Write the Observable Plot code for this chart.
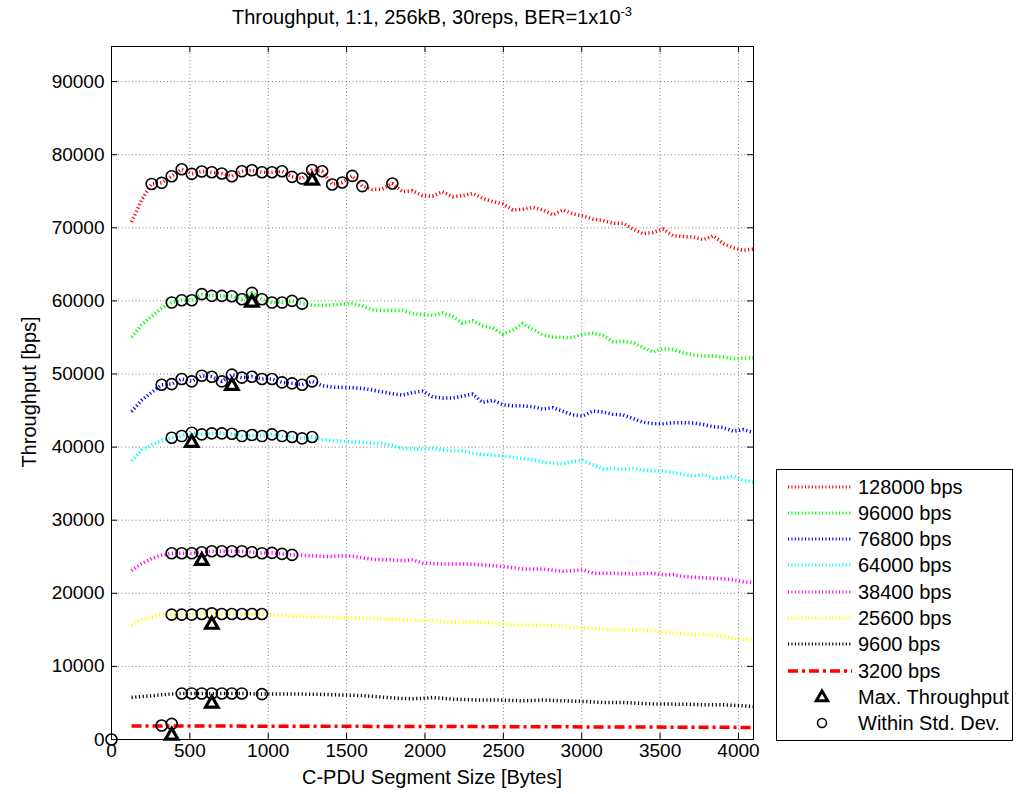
<!DOCTYPE html>
<html><head><meta charset="utf-8">
<script src="https://cdn.jsdelivr.net/npm/d3@7"></script>
<script src="https://cdn.jsdelivr.net/npm/@observablehq/plot@0.6"></script>
<style>
body{margin:0;background:#fff;font-family:"Liberation Sans",Arial,Helvetica,sans-serif;color:#000;}
#wrap{position:relative;width:1019px;height:794px;overflow:hidden;}
#chart{position:absolute;left:0;top:0;}
.lbl{position:absolute;font-size:20px;line-height:24px;text-align:center;white-space:nowrap;}
#title{left:111px;width:642px;top:5px;}
#title sup{font-size:13px;vertical-align:8px;line-height:0;}
#xlabel{left:132px;width:600px;top:765px;}
#ylabel{left:-121px;width:300px;top:380px;transform:rotate(-90deg);transform-origin:center center;}
#legend{position:absolute;left:776px;top:469px;width:237px;height:272px;border:1px solid #000;background:#fff;box-sizing:border-box;}
#legend .row{position:absolute;left:0;height:24px;font-size:20px;line-height:24px;white-space:nowrap;}
#legend svg{position:absolute;left:0;top:0;}
#legend span{position:absolute;left:81px;top:0;}
</style></head>
<body>
<div id="wrap">
  <div id="chart"></div>
  <div id="title" class="lbl">Throughput, 1:1, 256kB, 30reps, BER=1x10<sup>-3</sup></div>
  <div id="xlabel" class="lbl">C-PDU Segment Size [Bytes]</div>
  <div id="ylabel" class="lbl">Throughput [bps]</div>
  <div id="legend"></div>
</div>
<script>
// ---- data ----
const segmentSizes = [128,192,256,320,384,448,512,576,640,704,768,832,896,960,1024,1088,1152,1216,1280,1344,1408,1472,1536,1600,1664,1728,1792,1856,1920,1984,2048,2112,2176,2240,2304,2368,2432,2496,2560,2624,2688,2752,2816,2880,2944,3008,3072,3136,3200,3264,3328,3392,3456,3520,3584,3648,3712,3776,3840,3904,3968,4032,4096];

const tp128000 = [70800,73800,76000,76150,77060,78010,77380,77700,77600,77420,77060,77740,77870,77600,77600,77740,76970,76740,77900,77740,75930,76200,77100,75700,75250,75300,76060,74930,75070,74400,74340,74930,74250,74390,74700,74030,73600,73260,72440,72530,72800,72440,71760,72440,71900,71630,71180,71000,70630,70630,69820,69190,69370,69820,68910,68820,68730,68370,68910,67830,67240,66920,67100];
const tp96000 = [55050,56700,57900,59000,59770,60090,60090,60920,60690,60690,60640,60230,61100,60230,59770,59770,60000,59630,59400,59400,59450,59550,59630,59300,58750,58700,58700,58700,58260,58100,58030,58350,57890,56950,57300,56600,56300,55450,56000,56900,56100,55350,55050,55000,55000,55450,55580,55300,54400,54450,54300,53600,53000,53500,53350,52900,52600,52450,52480,52300,52100,52150,52200];
const tp76800 = [44860,46400,47500,48530,48620,49310,48990,49770,49630,48990,49910,49500,49630,49310,49310,48850,48720,48530,48990,48400,48200,48170,48120,48050,47800,47550,47300,47100,47450,47650,46900,46700,46700,46980,47250,46100,46400,45800,45650,45640,45520,45200,45400,44900,44400,44250,44950,44800,44480,44400,43900,43400,43210,43210,43330,43340,43300,43080,42780,42680,42150,42400,41970];
const tp64000 = [38100,39600,40300,40900,41280,41510,41970,41740,41880,41880,41830,41510,41650,41510,41740,41510,41380,41190,41380,41000,40900,40800,40700,40650,40550,40500,40200,39800,39750,39700,39800,39560,39500,39450,39200,39000,38900,38770,38600,38450,38250,38000,37800,37680,38050,38150,37600,37000,37050,36960,37070,36830,36730,36720,36520,36280,36050,36230,35760,35790,36000,35420,35250];
const tp38400 = [23100,24050,24750,25200,25480,25480,25480,25620,25750,25750,25750,25750,25620,25480,25530,25390,25250,25200,25120,25050,25050,25120,25100,24850,24650,24600,24570,24470,24570,24150,24050,24020,24020,24020,23950,23880,23780,23650,23500,23330,23330,23330,23150,23010,23100,23200,22750,22740,22740,22700,22650,22700,22740,22520,22560,22300,22200,22120,22050,21990,21850,21580,21500];
const tp25600 = [15600,16400,16750,17080,17080,17080,17080,17170,17260,17170,17170,17170,17170,17170,17050,16940,16880,16830,16790,16750,16700,16650,16610,16580,16550,16500,16450,16350,16300,16270,16260,16170,16100,16040,16030,16030,15920,15800,15730,15670,15660,15660,15550,15440,15340,15250,15170,15100,15060,15020,15020,15000,14870,14740,14580,14450,14340,14340,14300,14060,13850,13680,13600];
const tp9600 = [5750,5880,5980,6120,6230,6300,6300,6300,6300,6300,6300,6300,6250,6210,6210,6210,6210,6210,6200,6170,6130,6090,6060,6000,5900,5800,5700,5600,5580,5620,5740,5640,5520,5470,5430,5390,5390,5390,5350,5300,5340,5390,5350,5300,5250,5210,5130,5070,5070,5060,5000,4920,4870,4840,4840,4830,4790,4750,4750,4740,4680,4600,4500];

const sizes3200 = [128,512,1024,1536,2048,2560,3072,3584,4096];
const tp3200 = [1850,1850,1820,1800,1780,1750,1720,1690,1650];

const seriesNames = ["128000 bps","96000 bps","76800 bps","64000 bps","38400 bps","25600 bps","9600 bps"];
const seriesColors = ["#ff0000","#00ff00","#0000ff","#00ffff","#ff00ff","#ffff00","#000000"];
const seriesValues = [tp128000,tp96000,tp76800,tp64000,tp38400,tp25600,tp9600];

// sizes whose throughput lies within one std. dev. of the maximum
const withinStd128000 = [256,320,384,448,512,576,640,704,768,832,896,960,1024,1088,1152,1216,1280,1344,1408,1472,1536,1600,1792];
const withinStd96000 = [384,448,512,576,640,704,768,832,896,960,1024,1088,1152,1216];
const withinStd76800 = [320,384,448,512,576,640,704,768,832,896,960,1024,1088,1152,1216,1280];
const withinStd64000 = [384,448,512,576,640,704,768,832,896,960,1024,1088,1152,1216,1280];
const withinStd38400 = [384,448,512,576,640,704,768,832,896,960,1024,1088,1152];
const withinStd25600 = [384,448,512,576,640,704,768,832,896,960];
const withinStd9600 = [448,512,576,640,704,768,832,960];
const withinStdLists = [withinStd128000,withinStd96000,withinStd76800,withinStd64000,withinStd38400,withinStd25600,withinStd9600];
const withinStdExtraX = [0,320,384];
const withinStdExtraY = [0,1915,2140];

const maxSize = [1280,896,768,512,576,640,640,384];
const maxThroughput = [76460,59770,48390,40600,24450,15710,4930,550];

const xTicks = [0,500,1000,1500,2000,2500,3000,3500,4000];
const yTicks = [0,10000,20000,30000,40000,50000,60000,70000,80000,90000];

// ---- build tables ----
const lineRows = [];
seriesValues.forEach((vals, k) => vals.forEach((v, i) => lineRows.push({x: segmentSizes[i], y: v, s: seriesNames[k]})));
const rows3200 = sizes3200.map((x, i) => ({x, y: tp3200[i]}));
const circleRows = [];
withinStdLists.forEach((list, k) => list.forEach(x => circleRows.push({x, y: seriesValues[k][segmentSizes.indexOf(x)]})));
withinStdExtraX.forEach((x, i) => circleRows.push({x, y: withinStdExtraY[i]}));
const maxRows = maxSize.map((x, i) => ({x, y: maxThroughput[i]}));

const W = 1019, H = 794, mL = 111, mR = 266, mT = 46, mB = 55;
const fw = W - mL - mR, fh = H - mT - mB;
const tick = 6;
const gridStyle = {stroke: "#000", strokeOpacity: 0.5, strokeDasharray: "1,2.5"};

const chart = Plot.plot({
  width: W, height: H,
  marginLeft: mL, marginRight: mR, marginTop: mT, marginBottom: mB,
  style: {fontFamily: "'Liberation Sans', Arial, sans-serif", fontSize: "19px", color: "#000", background: "#fff"},
  x: {domain: [0, 4096], label: null},
  y: {domain: [0, 94800], label: null},
  color: {domain: seriesNames, range: seriesColors},
  marks: [
    Plot.gridX(xTicks, gridStyle),
    Plot.gridY(yTicks, gridStyle),
    Plot.line(lineRows, {x: "x", y: "y", z: "s", stroke: "s", strokeWidth: 3.5, strokeDasharray: "1.2,2.5", strokeLinecap: "butt"}),
    Plot.line(rows3200, {x: "x", y: "y", stroke: "#ff0000", strokeWidth: 3.5, strokeDasharray: "10,4,3,4", strokeLinecap: "butt"}),
    Plot.dot(circleRows, {x: "x", y: "y", r: 5.5, stroke: "#000", strokeWidth: 1.6, fill: "none"}),
    Plot.dot(maxRows, {x: "x", y: "y", symbol: "triangle", r: 4.6, stroke: "#000", strokeWidth: 3.2, fill: "#fff", strokeLinejoin: "miter"}),
    Plot.ruleX(xTicks, {stroke: "#000", insetTop: fh - tick}),
    Plot.ruleX(xTicks, {stroke: "#000", insetBottom: fh - tick}),
    Plot.ruleY(yTicks, {stroke: "#000", insetRight: fw - tick}),
    Plot.ruleY(yTicks, {stroke: "#000", insetLeft: fw - tick}),
    Plot.frame({stroke: "#000", strokeWidth: 1}),
    Plot.axisX(xTicks, {tickSize: 0, tickPadding: 4, tickFormat: d3.format("d"), label: null}),
    Plot.axisY(yTicks, {tickSize: 0, tickPadding: 7, tickFormat: d3.format("d"), label: null})
  ]
});
document.getElementById("chart").appendChild(chart);

// ---- legend ----
const legend = document.getElementById("legend");
const rowTop = 4.5, rowStep = 26.3;
const entries = seriesNames.map((n, k) => ({label: n, kind: "dot", color: seriesColors[k]}))
  .concat([{label: "3200 bps", kind: "dashdot", color: "#ff0000"},
           {label: "Max. Throughput", kind: "tri"},
           {label: "Within Std. Dev.", kind: "circ"}]);
entries.forEach((e, i) => {
  const row = document.createElement("div");
  row.className = "row";
  row.style.top = (rowTop + i * rowStep) + "px";
  row.style.width = "235px";
  let g = "";
  if (e.kind === "dot") g = `<line x1="11" x2="75" y1="12" y2="12" stroke="${e.color}" stroke-width="3" stroke-dasharray="1.1,2.3"/>`;
  else if (e.kind === "dashdot") g = `<line x1="11" x2="75" y1="12" y2="12" stroke="${e.color}" stroke-width="3.5" stroke-dasharray="10,4,3,4"/>`;
  else if (e.kind === "tri") g = `<path transform="translate(45,12.5)" d="${d3.symbol(d3.symbolTriangle, 18 * Math.PI)()}" fill="#fff" stroke="#000" stroke-width="3" stroke-linejoin="miter"/>`;
  else g = `<circle cx="45" cy="12" r="4.5" fill="none" stroke="#000" stroke-width="1.5"/>`;
  row.innerHTML = `<svg width="80" height="24">${g}</svg><span>${e.label}</span>`;
  legend.appendChild(row);
});
</script>
</body></html>
